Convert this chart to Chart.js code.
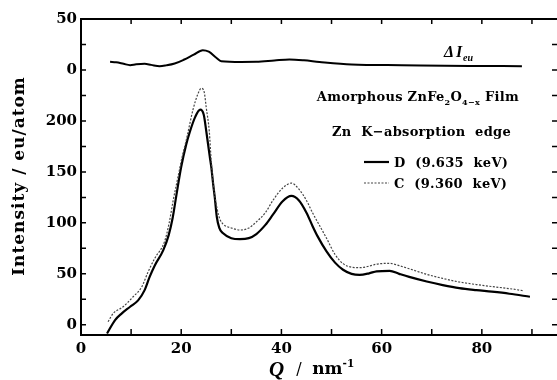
<!DOCTYPE html>
<html>
<head>
<meta charset="utf-8">
<script src="https://cdn.jsdelivr.net/npm/chart.js@4/dist/chart.umd.min.js"></script>
<style>
  html, body { margin: 0; padding: 0; background: #fff; }
  #wrap { width: 557px; height: 380px; position: relative; }
</style>
</head>
<body>
<div id="wrap"><canvas id="chart"></canvas></div>
<script>
// Q in nm^-1, intensities in eu/atom
const qD = [5.2, 6.8, 8.1, 9.8, 11.4, 12.7, 13.7, 14.7, 16.4, 17.5, 18.3, 19, 20, 21, 21.7, 22.8, 23.8, 24.5, 25, 25.7, 26, 26.4, 26.7, 27.1, 27.6, 28.3, 30, 31.7, 33.5, 35, 36.8, 38.3, 40.2, 42, 43.5, 45, 46.2, 47.2, 49, 50.7, 52.3, 54, 55.6, 57.5, 59, 61.6, 63.5, 65.5, 69, 72.2, 75.5, 78.9, 82, 85.5, 89.6];
const intensityD = [-8.5, 4.6, 11, 17.7, 24, 34, 47, 58, 73, 88, 105, 126, 155, 177, 189, 204, 211, 206, 190, 165, 155, 137, 125, 106, 95, 90, 85, 84, 85, 89, 98, 108, 121, 126.5, 122, 110, 97, 87, 72, 61, 54, 50, 49, 50.5, 52.5, 53, 50, 47, 42.5, 39, 36, 34, 32.5, 30.5, 27.5];

const qC = [5.4, 6.4, 8.4, 10.4, 12.1, 13.4, 14.7, 16.7, 17.6, 18.4, 19.4, 20.2, 21, 22.4, 23.3, 24, 24.6, 25, 25.6, 26, 26.6, 27.2, 27.7, 28.3, 30, 31.7, 33.5, 35, 36.8, 38.3, 40.2, 42, 43.5, 45, 46.2, 47.2, 49, 50.7, 52.3, 54, 55.6, 57.5, 59, 61.6, 63.5, 65.5, 69, 72.2, 75.5, 78.9, 82, 85.5, 88.4];
const intensityC = [3, 11, 17.7, 27.5, 37, 52, 65, 82, 100, 122, 146, 165, 181, 212, 226, 232, 228, 213, 190, 160, 130, 113, 104, 99, 95, 93, 95, 101, 110, 122, 134, 139, 133, 122, 110, 101, 85, 69, 60, 56.5, 56, 57.5, 59.5, 60.3, 58, 55, 49.5, 45.5, 42, 39.5, 37.5, 35.5, 33.4];

// difference curve, plotted on its own zero shifted up the axis
const qDelta = [5.8, 7, 8.5, 9.8, 11, 12.7, 14, 15.7, 17, 18.7, 20.5, 22.5, 24.3, 25.5, 27, 28, 32, 35, 38.6, 41.6, 44.5, 47.6, 54, 64, 77.5, 88];
const deltaI = [8, 7.5, 6, 4.7, 5.5, 6, 5, 3.7, 4.5, 6.3, 10, 15, 19.4, 18, 12, 8.6, 7.9, 8, 9.3, 10.3, 9.5, 7.9, 5.4, 4.7, 4, 3.7];
const deltaOffset = 250;

const xTicks = [0, 20, 40, 60, 80];
const yTicks = [0, 50, 100, 150, 200, 250, 300];
const yTickLabels = ['0', '50', '100', '150', '200', '0', '50'];

const serif = '"DejaVu Serif", serif';

function pairs(xs, ys, off) {
  return xs.map((q, i) => ({ x: q, y: ys[i] + (off || 0) }));
}

// draw a run of [text, kind] pieces; kind: n = normal, sub, sup
function drawRuns(ctx, runs, x, y, size, base) {
  let cx = x;
  runs.forEach(([t, kind, font]) => {
    const s = kind === 'n' ? size : size * 0.62;
    const dy = kind === 'sub' ? size * 0.28 : kind === 'sup' ? -size * 0.42 : 0;
    ctx.font = (font || base) + ' ' + s + 'px ' + serif;
    ctx.fillText(t, cx, y + dy);
    cx += ctx.measureText(t).width;
  });
  return cx - x;
}
function runsWidth(ctx, runs, size, base) {
  let w = 0;
  runs.forEach(([t, kind, font]) => {
    const s = kind === 'n' ? size : size * 0.62;
    ctx.font = (font || base) + ' ' + s + 'px ' + serif;
    w += ctx.measureText(t).width;
  });
  return w;
}

const frame = {
  id: 'frame',
  afterDraw(chart) {
    const { ctx, chartArea: a, scales: { x, y } } = chart;
    ctx.save();
    ctx.strokeStyle = '#000';
    ctx.lineWidth = 2;
    ctx.beginPath();
    ctx.moveTo(a.right, a.top); ctx.lineTo(a.left, a.top);
    ctx.lineTo(a.left, a.bottom); ctx.lineTo(a.right, a.bottom);
    ctx.stroke();

    ctx.lineWidth = 1.5;
    ctx.beginPath();
    for (let v = 0; v <= 300; v += 25) {
      const py = y.getPixelForValue(v);
      ctx.moveTo(a.left, py); ctx.lineTo(a.left + 5, py);
      ctx.moveTo(a.right - 5, py); ctx.lineTo(a.right, py);
    }
    for (let q = 10; q <= 90; q += 10) {
      const px = x.getPixelForValue(q);
      ctx.moveTo(px, a.top); ctx.lineTo(px, a.top + 5);
      ctx.moveTo(px, a.bottom); ctx.lineTo(px, a.bottom - 6);
    }
    ctx.stroke();

    ctx.fillStyle = '#000';
    ctx.textBaseline = 'alphabetic';
    ctx.textAlign = 'left';

    // y axis title
    ctx.save();
    ctx.translate(24, 176);
    ctx.rotate(-Math.PI / 2);
    ctx.textAlign = 'center';
    ctx.font = 'bold 17px ' + serif;
    ctx.letterSpacing = '1px';
    ctx.fillText('Intensity / eu/atom', 0, 0);
    ctx.restore();

    // x axis title
    let cx = 269;
    ctx.font = 'bold italic 21px "Liberation Serif", serif';
    ctx.fillText('Q', cx, 376);
    cx += ctx.measureText('Q').width + 12;
    ctx.font = '16px ' + serif;
    ctx.fillText('/', cx, 374);
    cx += 16;
    drawRuns(ctx, [['nm', 'n'], ['-1', 'sup']], cx, 374, 17, 'bold');

    // difference curve label
    ctx.font = 'bold italic 16px "Liberation Serif", serif';
    ctx.fillText('\u0394', 444, 57);
    ctx.fillText('I', 456, 57);
    ctx.font = 'bold italic 10px "Liberation Serif", serif';
    ctx.fillText('eu', 463, 61);

    // sample description
    const film = [['Amorphous ZnFe', 'n'], ['2', 'sub'], ['O', 'n'], ['4\u2212x', 'sub'], [' Film', 'n']];
    ctx.letterSpacing = '0.3px';
    const fw = runsWidth(ctx, film, 13, 'bold');
    drawRuns(ctx, film, 519 - fw, 101, 13, 'bold');
    ctx.font = 'bold 13px ' + serif;
    ctx.textAlign = 'right';
    ctx.fillText('Zn  K\u2212absorption  edge', 511, 136);
    ctx.textAlign = 'left';
    ctx.fillText('D  (9.635  keV)', 394, 167);
    ctx.fillText('C  (9.360  keV)', 394, 188);

    ctx.lineWidth = 2.2;
    ctx.beginPath(); ctx.moveTo(364, 162); ctx.lineTo(389, 162); ctx.stroke();
    ctx.lineWidth = 1.2;
    ctx.strokeStyle = '#444';
    ctx.setLineDash([2, 1.5]);
    ctx.beginPath(); ctx.moveTo(364, 183); ctx.lineTo(389, 183); ctx.stroke();
    ctx.restore();
  }
};

new Chart(document.getElementById('chart'), {
  type: 'line',
  data: {
    datasets: [
      {
        label: 'C (9.360 keV)',
        data: pairs(qC, intensityC),
        borderColor: '#444',
        borderWidth: 1.2,
        borderDash: [2, 1.5],
        pointRadius: 0,
        cubicInterpolationMode: 'monotone'
      },
      {
        label: 'D (9.635 keV)',
        data: pairs(qD, intensityD),
        borderColor: '#000',
        borderWidth: 2.2,
        pointRadius: 0,
        cubicInterpolationMode: 'monotone'
      },
      {
        label: '\u0394I eu',
        data: pairs(qDelta, deltaI, deltaOffset),
        borderColor: '#000',
        borderWidth: 2,
        pointRadius: 0,
        cubicInterpolationMode: 'monotone'
      }
    ]
  },
  options: {
    responsive: true,
    maintainAspectRatio: false,
    animation: false,
    layout: { padding: { top: 19, right: 0, left: 0, bottom: 0 } },
    plugins: { legend: { display: false }, tooltip: { enabled: false } },
    scales: {
      x: {
        type: 'linear',
        min: 0,
        max: 95,
        afterFit: s => { s.height = 45; },
        afterBuildTicks: s => { s.ticks = xTicks.map(v => ({ value: v })); },
        grid: { display: false, drawTicks: false },
        border: { display: false },
        ticks: {
          padding: 5,
          color: '#000',
          font: { family: serif, size: 15, weight: 'bold' },
          maxRotation: 0
        }
      },
      y: {
        min: -10,
        max: 300,
        afterFit: s => { s.width = 81; },
        afterBuildTicks: s => { s.ticks = yTicks.map(v => ({ value: v })); },
        grid: { display: false, drawTicks: false },
        border: { display: false },
        ticks: {
          padding: 4,
          color: '#000',
          font: { family: serif, size: 15, weight: 'bold' },
          callback: v => yTickLabels[yTicks.indexOf(v)]
        }
      }
    }
  },
  plugins: [frame]
});
</script>
</body>
</html>
